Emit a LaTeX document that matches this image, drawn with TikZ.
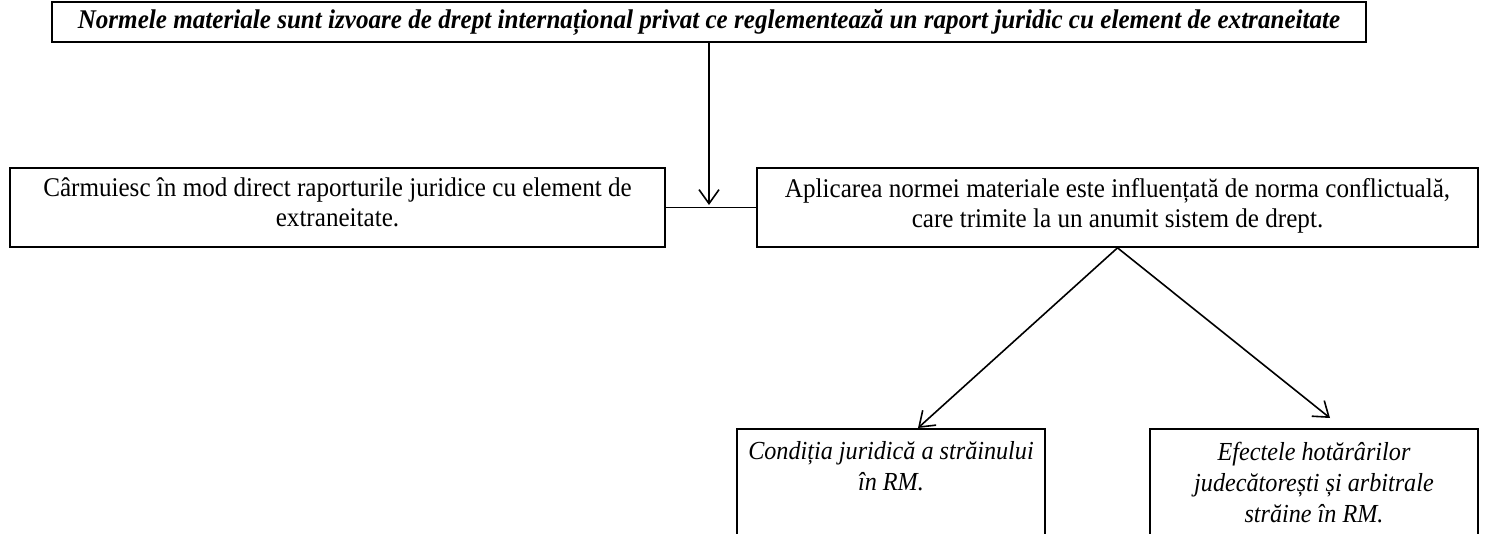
\documentclass[tikz,border=0pt]{standalone}
\usepackage{fontspec}
\setmainfont{Liberation Serif}[FakeStretch=0.93]
\usetikzlibrary{arrows.meta}
\tikzset{
  box/.style={draw, line width=1.7pt, inner sep=0pt, align=center},
  conn/.style={line width=1.6pt},
  arr/.style={line width=1.6pt, -{Straight Barb[length=14pt,width=20pt,line width=1.6pt]}},
  body/.style={font=\fontsize{27}{30}\selectfont},
  ital/.style={font=\fontsize{26}{31}\selectfont\itshape},
}
\newcommand{\topbox}[4]{\parbox[c][#1][t]{#2}{\centering\vspace*{#3}#4}}
\begin{document}
\begin{tikzpicture}[x=1pt,y=-1pt]
\useasboundingbox (0,0) rectangle (1488,534);
\clip (0,0) rectangle (1488,534);
\node[box, minimum width=1314pt, minimum height=40pt, font=\fontsize{27}{30}\selectfont\bfseries\itshape] (top) at (709,22)
  {Normele materiale sunt izvoare de drept internațional privat ce reglementează un raport juridic cu element de extraneitate};
\node[box, body] (left) at (337.5,207.5)
  {\topbox{79pt}{655pt}{10pt}{Cârmuiesc în mod direct raporturile juridice cu element de\\ extraneitate.}};
\node[box, body] (right) at (1117.5,207.5)
  {\topbox{79pt}{721pt}{10pt}{Aplicarea normei materiale este influențată de norma conflictuală,\\ care trimite la un anumit sistem de drept.}};
\node[box, ital, anchor=north] (bl) at (891,428)
  {\topbox{140pt}{308pt}{13pt}{Condiția juridică a străinului\\ în RM.}};
\node[box, ital, anchor=north] (br) at (1314,428)
  {\topbox{140pt}{328pt}{13pt}{Efectele hotărârilor\\ judecătorești și arbitrale\\ străine în RM.}};
\coordinate (j) at (709,205);
\coordinate (tl) at (918,428);
\coordinate (tr) at (1330,418);
\draw[arr] (top.south -| j) -- (j);
\draw[conn] (left.east) -- (right.west);
\draw[arr] (right.south) -- (tl);
\draw[arr] (right.south) -- (tr);
\end{tikzpicture}
\end{document}
